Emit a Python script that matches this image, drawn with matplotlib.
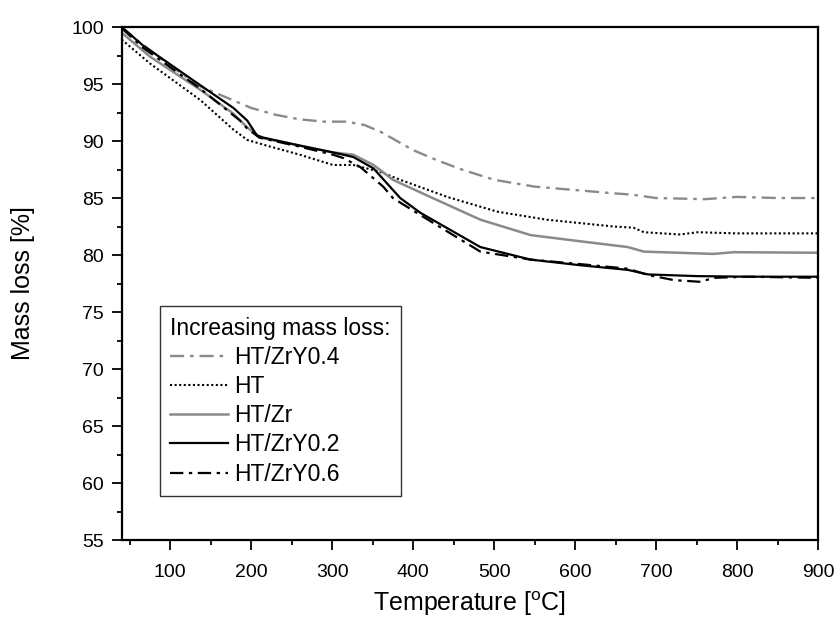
import matplotlib
matplotlib.use('Agg')
import matplotlib.pyplot as plt
from matplotlib.ticker import MultipleLocator

plt.rcParams['font.family'] = ['Liberation Sans', 'DejaVu Sans']
plt.rcParams['mathtext.default'] = 'regular'

# HT/ZrY0.4
x_y04 = [40, 60, 100, 137, 160, 180, 200, 230, 260, 290, 318, 340, 360, 380, 400, 430, 460, 500, 550, 600, 650, 670, 700, 760, 800, 850, 900]
m_y04 = [100, 98.8, 96.6, 94.8, 94.1, 93.5, 92.9, 92.3, 91.9, 91.7, 91.7, 91.4, 90.8, 90.0, 89.2, 88.3, 87.5, 86.6, 86.0, 85.7, 85.4, 85.3, 85.0, 84.9, 85.1, 85.0, 85.0]
# HT
x_ht = [40, 75, 137, 178, 195, 219, 260, 301, 326, 359, 384, 442, 504, 565, 648, 672, 685, 730, 751, 800, 900]
m_ht = [98.9, 96.8, 93.6, 91.0, 90.1, 89.6, 88.8, 87.9, 87.9, 87.3, 86.6, 85.1, 83.8, 83.1, 82.5, 82.4, 82.0, 81.8, 82.0, 81.9, 81.9]
# HT/Zr
x_zr = [40, 75, 137, 178, 195, 211, 260, 301, 326, 351, 375, 421, 483, 545, 607, 665, 685, 771, 796, 900]
m_zr = [99.5, 97.4, 94.5, 92.4, 91.2, 90.3, 89.6, 89.0, 88.8, 87.9, 86.6, 85.1, 83.1, 81.75, 81.2, 80.7, 80.3, 80.1, 80.25, 80.2]
# HT/ZrY0.2
x_y02 = [40, 66, 137, 178, 195, 207, 215, 260, 301, 326, 351, 384, 409, 483, 545, 607, 665, 690, 751, 813, 900]
m_y02 = [100, 98.4, 94.9, 92.9, 91.8, 90.5, 90.3, 89.6, 89.0, 88.6, 87.6, 85.0, 83.7, 80.7, 79.6, 79.1, 78.7, 78.3, 78.15, 78.1, 78.1]
# HT/ZrY0.6
x_y06 = [40, 66, 137, 186, 195, 210, 260, 301, 314, 335, 363, 375, 409, 483, 545, 607, 665, 690, 722, 755, 771, 813, 900]
m_y06 = [99.9, 98.2, 94.6, 91.8, 91.1, 90.3, 89.5, 88.8, 88.5, 87.7, 86.0, 85.0, 83.5, 80.3, 79.6, 79.2, 78.8, 78.25, 77.8, 77.65, 78.0, 78.1, 78.0]

gray = '#8a8a8a'

fig = plt.figure(figsize=(8.39, 6.28), dpi=100)
ax = fig.add_axes([0.145, 0.140, 0.830, 0.817])

ax.plot(x_y04, m_y04, color=gray, lw=1.7, dashes=(6, 2.5, 1.5, 2.5), label='HT/ZrY0.4')
ax.plot(x_ht, m_ht, color='black', lw=1.5, dashes=(1, 1.2), label='HT')
ax.plot(x_zr, m_zr, color=gray, lw=1.8, label='HT/Zr')
ax.plot(x_y02, m_y02, color='black', lw=1.6, label='HT/ZrY0.2')
ax.plot(x_y06, m_y06, color='black', lw=1.6, dashes=(6, 2.5, 1.5, 2.5), label='HT/ZrY0.6')

ax.set_xlim(40, 900)
ax.set_ylim(55, 100)
ax.xaxis.set_major_locator(MultipleLocator(100))
ax.xaxis.set_minor_locator(MultipleLocator(50))
ax.yaxis.set_major_locator(MultipleLocator(5))
ax.yaxis.set_minor_locator(MultipleLocator(2.5))
ax.tick_params(which='both', direction='out', width=1.3, labelsize=14)
ax.tick_params(which='major', length=7.2)
ax.tick_params(which='minor', length=3.8)
ax.tick_params(axis='x', which='major', pad=10)
ax.tick_params(axis='y', which='major', pad=5.5)
for s in ax.spines.values():
    s.set_linewidth(1.6)

ax.set_xlabel('Temperature [$^{o}$C]', fontsize=18, labelpad=6)
ax.set_ylabel('Mass loss [%]', fontsize=18, labelpad=26)

leg = ax.legend(title='Increasing mass loss:', loc='lower left', bbox_to_anchor=(0.055, 0.086),
                fontsize=16.5, title_fontsize=16.5, handlelength=2.5, handletextpad=0.3,
                labelspacing=0.27, borderpad=0.45, borderaxespad=0, fancybox=False,
                framealpha=1, edgecolor='#333333')
leg._legend_box.align = 'left'
leg.get_frame().set_linewidth(1.0)

fig.savefig('out.png', dpi=100)
